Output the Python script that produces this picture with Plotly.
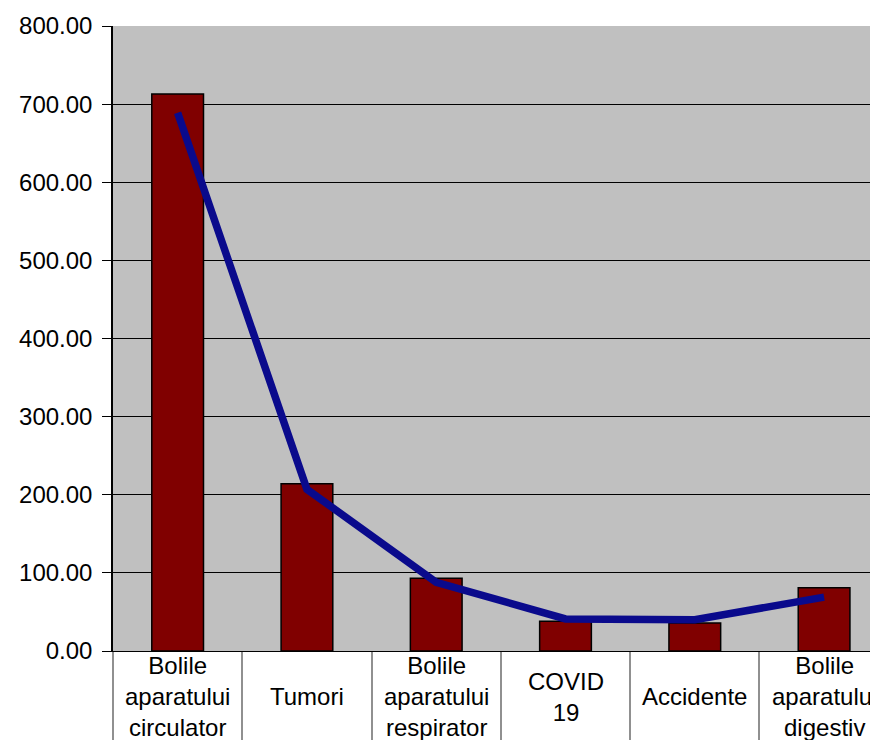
import plotly.graph_objs as go

categories = ["Bolile<br>aparatului<br>circulator", "Tumori", "Bolile<br>aparatului<br>respirator",
              "COVID<br>19", "Accidente", "Bolile<br>aparatului<br>digestiv"]
bar_values = [713, 214, 93, 38, 36, 81]
line_values = [689, 207, 88, 41, 40, 69]
y_ticks = [0, 100, 200, 300, 400, 500, 600, 700, 800]

bars = go.Bar(x=categories, y=bar_values, width=0.4,
              marker=dict(color="#800000", line=dict(color="#000000", width=1.5)))
line = go.Scatter(x=categories, y=line_values, mode="lines",
                  line=dict(color="#0a0a8c", width=7.5))

fig = go.Figure(data=[bars, line])

# category labels centred vertically in the boxes under the axis
for cat in categories:
    fig.add_annotation(x=cat, xref="x", y=-0.0736, yref="paper", yanchor="middle",
                       text=cat, showarrow=False, align="center",
                       font=dict(family="Liberation Sans, Arial", size=24, color="black"))

# page body has an 8px margin, so offsets are shifted by 8
fig.update_layout(
    width=870, height=732,
    margin=dict(l=105, r=0, t=18, b=89, autoexpand=False),
    paper_bgcolor="white",
    plot_bgcolor="#c0c0c0",
    showlegend=False,
    font=dict(family="Liberation Sans, Arial", size=24, color="black"),
    xaxis=dict(
        type="category", range=[-0.5, 5.417], automargin=False,
        showline=True, linecolor="black", linewidth=1,
        ticks="outside", tickson="boundaries", ticklen=95, tickcolor="#909090", tickwidth=1.5,
        showticklabels=False, showgrid=False,
    ),
    yaxis=dict(
        range=[0, 800], tickvals=y_ticks, tickformat=".2f", automargin=False,
        showline=True, linecolor="black", linewidth=1.5,
        ticks="outside", ticklen=9, tickcolor="black", ticklabelstandoff=5,
        showgrid=True, gridcolor="black", gridwidth=1, zeroline=False,
    ),
)

fig.write_html("out.html")
